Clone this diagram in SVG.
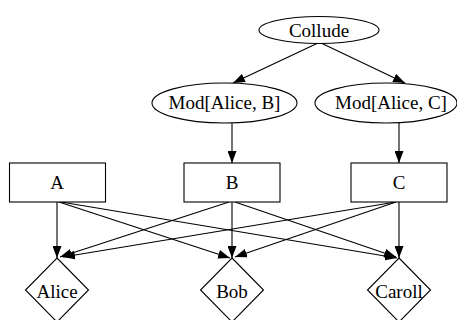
<svg xmlns="http://www.w3.org/2000/svg" width="457" height="320" viewBox="0 0 457 320">
  <style>
    .shape { fill: #ffffff; stroke: #000000; stroke-width: 1.1; }
    .label { font-family: "Liberation Serif", "Times New Roman", serif; font-size: 19px; fill: #000000; text-anchor: middle; }
    .edge { fill: none; stroke: #000000; stroke-width: 1.1; marker-end: url(#arrow); }
  </style>
  <defs>
    <marker id="arrow" markerUnits="userSpaceOnUse" markerWidth="12" markerHeight="9" refX="12" refY="4.5" orient="auto">
      <path d="M0,0 L12,4.5 L0,9 Z" fill="#000000"/>
    </marker>
  </defs>
  <rect width="457" height="320" fill="#ffffff"/>

  <!-- connectors -->
  <g id="edges">
    <line class="edge" x1="318" y1="43" x2="233" y2="83"/>
    <line class="edge" x1="321" y1="43" x2="405" y2="83"/>
    <line class="edge" x1="232" y1="123" x2="232" y2="163"/>
    <line class="edge" x1="399" y1="123" x2="399" y2="163"/>
    <line class="edge" x1="57" y1="202" x2="57" y2="258"/>
    <line class="edge" x1="59" y1="202" x2="230" y2="258"/>
    <line class="edge" x1="61" y1="202" x2="397" y2="258"/>
    <line class="edge" x1="229" y1="202" x2="60" y2="257"/>
    <line class="edge" x1="232" y1="202" x2="232" y2="258"/>
    <line class="edge" x1="235" y1="202" x2="396" y2="257"/>
    <line class="edge" x1="396" y1="202" x2="63" y2="257"/>
    <line class="edge" x1="396" y1="202" x2="235" y2="257"/>
    <line class="edge" x1="399" y1="202" x2="399" y2="258"/>
  </g>

  <g id="collude">
    <ellipse class="shape" cx="319" cy="30" rx="60" ry="13.5"/>
    <text class="label" x="319" y="37">Collude</text>
  </g>
  <g id="mod-alice-b">
    <ellipse class="shape" cx="224.5" cy="103" rx="72.5" ry="20"/>
    <text class="label" x="224.5" y="109">Mod[Alice, B]</text>
  </g>
  <g id="mod-alice-c">
    <ellipse class="shape" cx="386" cy="103" rx="71" ry="20"/>
    <text class="label" x="391" y="109">Mod[Alice, C]</text>
  </g>

  <g id="box-a">
    <rect class="shape" x="9.5" y="163" width="96" height="39"/>
    <text class="label" x="57" y="189">A</text>
  </g>
  <g id="box-b">
    <rect class="shape" x="184" y="163" width="96" height="39"/>
    <text class="label" x="232" y="189">B</text>
  </g>
  <g id="box-c">
    <rect class="shape" x="351" y="163" width="96" height="39"/>
    <text class="label" x="399" y="189">C</text>
  </g>

  <g id="alice">
    <polygon class="shape" points="57,258 88.5,290 57,322 25.5,290"/>
    <text class="label" x="57" y="298">Alice</text>
  </g>
  <g id="bob">
    <polygon class="shape" points="232,258 263.5,290 232,322 200.5,290"/>
    <text class="label" x="232" y="298">Bob</text>
  </g>
  <g id="caroll">
    <polygon class="shape" points="399,258 430.5,290 399,322 367.5,290"/>
    <text class="label" x="399" y="298">Caroll</text>
  </g>
</svg>
